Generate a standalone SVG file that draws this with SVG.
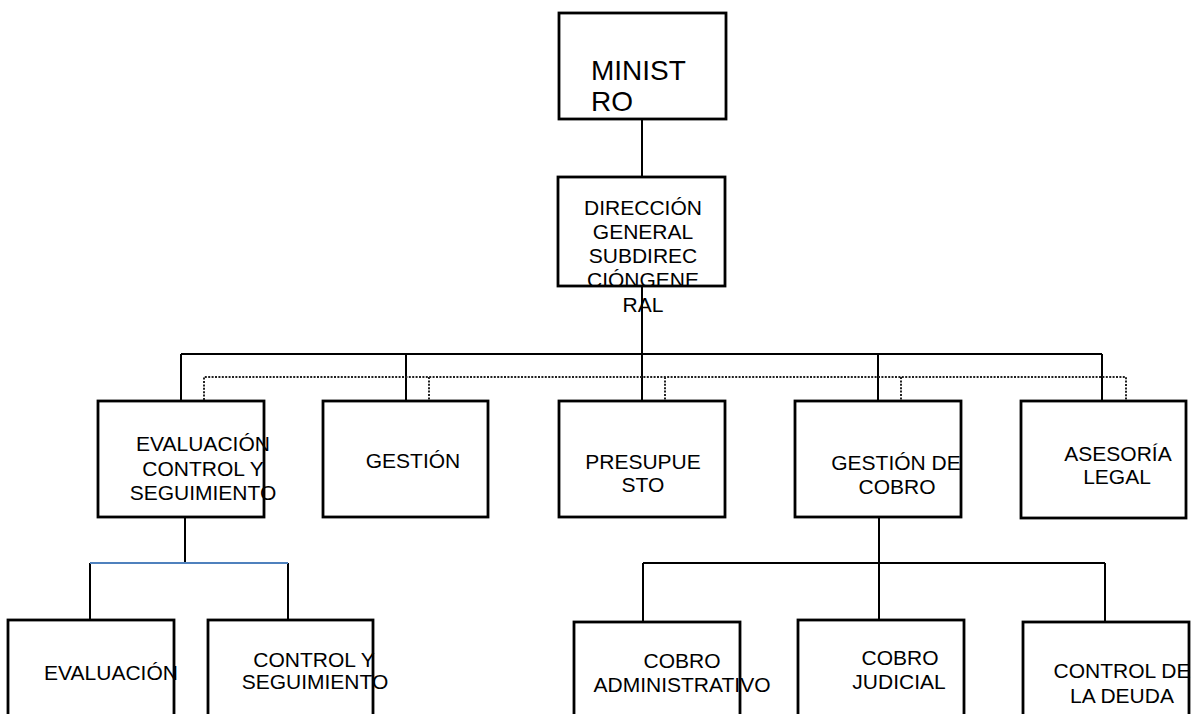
<svg xmlns="http://www.w3.org/2000/svg" width="1196" height="714" viewBox="0 0 1196 714">
<style>
.box{fill:#fff;stroke:#000;stroke-width:2.8}
.t{font-family:"Liberation Sans",Arial,sans-serif;font-size:21px;fill:#000;text-anchor:middle}
.big{font-family:"Liberation Sans",Arial,sans-serif;font-size:28px;fill:#000}
.c{stroke:#000;stroke-width:2;fill:none}
.d{stroke:#222;stroke-width:2;fill:none;stroke-dasharray:2 1.4}
.b{stroke:#4f81bd;stroke-width:2;fill:none}
</style>
<rect width="1196" height="714" fill="#fff"/>
<g id="n-ministro"><rect class="box" x="559" y="13" width="167" height="106"/><text class="big" x="591" y="80">MINIST</text><text class="big" x="591" y="111">RO</text></g>
<g id="n-direccion"><rect class="box" x="558" y="177" width="167" height="109"/><text class="t" x="643" y="215">DIRECCIÓN</text><text class="t" x="643" y="239">GENERAL</text><text class="t" x="643" y="263">SUBDIREC</text><text class="t" x="643" y="287">CIÓNGENE</text><text class="t" x="643" y="312">RAL</text></g>
<g id="n-evalcs"><rect class="box" x="98" y="401" width="166" height="116"/><text class="t" x="203" y="451">EVALUACIÓN</text><text class="t" x="203" y="476">CONTROL Y</text><text class="t" x="203" y="500">SEGUIMIENTO</text></g>
<g id="n-gestion"><rect class="box" x="323" y="401" width="165" height="116"/><text class="t" x="413" y="468">GESTIÓN</text></g>
<g id="n-presupuesto"><rect class="box" x="559" y="401" width="166" height="116"/><text class="t" x="643" y="469">PRESUPUE</text><text class="t" x="643" y="492">STO</text></g>
<g id="n-gcobro"><rect class="box" x="795" y="401" width="166" height="116"/><text class="t" x="896" y="470">GESTIÓN DE</text><text class="t" x="897" y="494">COBRO</text></g>
<g id="n-asesoria"><rect class="box" x="1021" y="401" width="165" height="117"/><text class="t" x="1118" y="461">ASESORÍA</text><text class="t" x="1117" y="484">LEGAL</text></g>
<g id="n-evaluacion"><rect class="box" x="8" y="620" width="166" height="110"/><text class="t" x="111" y="680">EVALUACIÓN</text></g>
<g id="n-controlseg"><rect class="box" x="208" y="620" width="165" height="110"/><text class="t" x="314" y="667">CONTROL Y</text><text class="t" x="315" y="689">SEGUIMIENTO</text></g>
<g id="n-cobroadm"><rect class="box" x="574" y="622" width="166" height="110"/><text class="t" x="682" y="668">COBRO</text><text class="t" x="682" y="692">ADMINISTRATIVO</text></g>
<g id="n-cobrojud"><rect class="box" x="798" y="620" width="166" height="110"/><text class="t" x="900" y="665">COBRO</text><text class="t" x="899" y="689">JUDICIAL</text></g>
<g id="n-controldeuda"><rect class="box" x="1023" y="622" width="166" height="110"/><text class="t" x="1122" y="678">CONTROL DE</text><text class="t" x="1122" y="703">LA DEUDA</text></g>
<g id="connectors">
<path class="c" d="M642 119V177M642 286V400M181 354H1102M181 354V400M406 354V400M878 354V400M1102 354V400"/>
<path class="d" d="M204 400V377H1126V400M429 377V400M665 377V400M901 377V400"/>
<path class="c" d="M185 517V563M90 563V620M288 563V620"/>
<path class="b" d="M90 563H288"/>
<path class="c" d="M879 517V620M643 563H1105M643 563V622M1105 563V622"/>
</g>
</svg>
